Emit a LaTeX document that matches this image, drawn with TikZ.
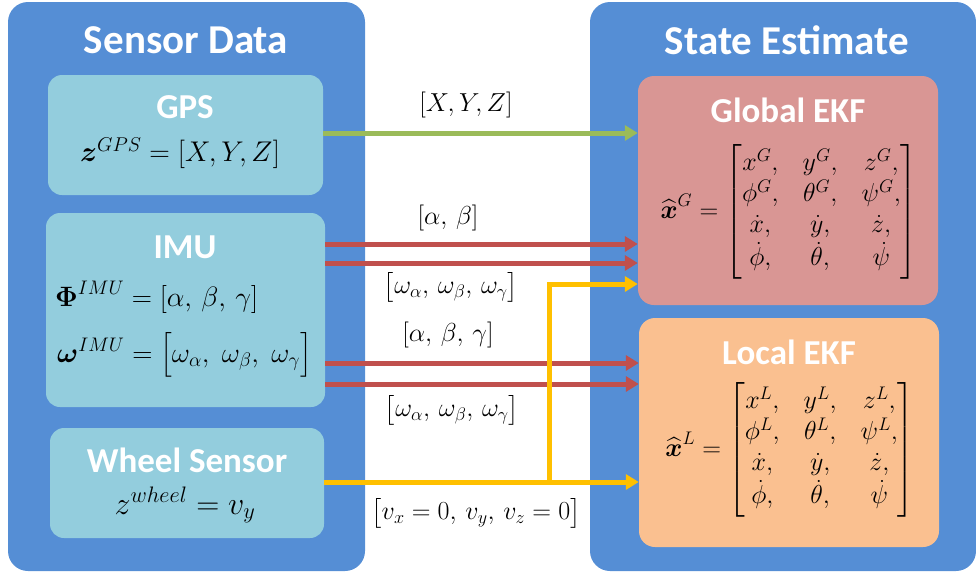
\RequirePackage{fix-cm}
\documentclass[tikz,border=0pt]{standalone}
\usepackage{amsmath}
\usepackage[no-math]{fontspec}
\newfontfamily\titlefont{Carlito}
\usetikzlibrary{arrows.meta,calc}
\definecolor{panelblue}{HTML}{558ED5}
\definecolor{boxblue}{HTML}{93CDDD}
\definecolor{globalc}{HTML}{D99694}
\definecolor{localc}{HTML}{FAC090}
\definecolor{greenc}{HTML}{9BBB59}
\definecolor{redc}{HTML}{C0504D}
\definecolor{yellowc}{HTML}{FFC000}
\tikzset{
  panel/.style={fill=panelblue, draw=none, rounded corners=20pt, inner sep=0pt},
  sbox/.style={fill=boxblue, draw=none, rounded corners=14pt, inner sep=0pt},
  bigtitle/.style={text=white, font=\titlefont\bfseries\fontsize{41}{46}\selectfont, inner sep=0pt},
  boxtitle/.style={text=white, font=\titlefont\bfseries\fontsize{35}{40}\selectfont, inner sep=0pt},
  formula/.style={font=\fontsize{28.5}{33}\selectfont, inner sep=0pt},
  lbl/.style={font=\fontsize{26}{31}\selectfont, inner sep=0pt},
  matr/.style={font=\fontsize{26}{31}\selectfont, inner sep=0pt},
  conn/.style={line width=5pt, -{Triangle[length=13pt,width=15pt]}},
}
\newcommand{\statemat}[1]{\renewcommand{\arraystretch}{1.0}\setlength{\arraycolsep}{12pt}%
$\widehat{\boldsymbol{x}}^{#1}=\begin{bmatrix} x^{#1}, & y^{#1}, & z^{#1},\\ \phi^{#1}, & \theta^{#1}, & \psi^{#1},\\ \dot{x}, & \dot{y}, & \dot{z},\\ \dot{\phi}, & \dot{\theta}, & \dot{\psi}\end{bmatrix}$}
\begin{document}
\begin{tikzpicture}[x=1pt,y=-1pt]
\useasboundingbox (0,0) rectangle (976,573);
% panels
\node[panel, minimum width=357pt, minimum height=569pt] (left) at (186.5,286.5) {};
\node[panel, minimum width=386pt, minimum height=569pt] (right) at (783,286.5) {};
\node[bigtitle] (ltitle) at (186,40) {Sensor Data};
\node[bigtitle] (rtitle) at (787,40) {State Estimate};
% sensor boxes
\node[sbox, minimum width=275pt, minimum height=120pt] (gps) at (185.5,135) {};
\node[sbox, minimum width=279pt, minimum height=194pt] (imu) at (185.5,310) {};
\node[sbox, minimum width=274pt, minimum height=110pt] (wheel) at (187,483) {};
\node[boxtitle] (gpst) at (185,107) {GPS};
\node[formula] (gpsf) at (180,153) {$\boldsymbol{z}^{GPS}=[X,Y,Z]$};
\node[boxtitle] (imut) at (185,247) {IMU};
\node[formula, font=\fontsize{28}{33}\selectfont, anchor=west] (imuf1) at (55,297) {$\boldsymbol{\Phi}^{IMU}=[\alpha,\,\beta,\,\gamma]$};
\node[formula, font=\fontsize{28}{33}\selectfont, anchor=west] (imuf2) at (57,355) {$\boldsymbol{\omega}^{IMU}=\bigl[\omega_\alpha,\;\omega_\beta,\;\omega_\gamma\bigr]$};
\node[boxtitle] (wheelt) at (187,460) {Wheel Sensor};
\node[formula, font=\fontsize{32}{37}\selectfont] (wheelf) at (185,505) {$z^{wheel}=v_y$};
% EKF boxes
\node[fill=globalc, rounded corners=16pt, minimum width=300pt, minimum height=229pt, inner sep=0pt] (global) at (788,190.5) {};
\node[fill=localc, rounded corners=16pt, minimum width=300pt, minimum height=229pt, inner sep=0pt] (local) at (789,432.5) {};
\node[boxtitle] (globalt) at (788,110) {Global EKF};
\node[boxtitle] (localt) at (789,352) {Local EKF};
\node[matr] (globalf) at (789,212) {\statemat{G}};
\node[matr] (localf) at (790,450) {\statemat{L}};
% connectors
\coordinate (yg) at (549,284);
\coordinate (yl) at (549,482);
\draw[conn, greenc] (gps.east |- 0,133) -- (global.west |- 0,133);
\draw[conn, redc] (imu.east |- 0,244) -- (global.west |- 0,244);
\draw[conn, redc] (imu.east |- 0,263) -- (global.west |- 0,263);
\draw[conn, redc] (imu.east |- 0,363) -- (local.west |- 0,363);
\draw[conn, redc] (imu.east |- 0,384) -- (local.west |- 0,384);
\draw[conn, yellowc] (wheel.east |- yl) -- (local.west |- yl);
\draw[conn, yellowc] (yl) -- (yg) -- (global.west |- yg);
% labels
\node[lbl] (l1) at (466,105) {$[X,Y,Z]$};
\node[lbl] (l2) at (448,218) {$[\alpha,\,\beta]$};
\node[lbl] (l3) at (451,287) {$\bigl[\omega_\alpha,\,\omega_\beta,\,\omega_\gamma\bigr]$};
\node[lbl] (l4) at (448,335) {$[\alpha,\,\beta,\,\gamma]$};
\node[lbl] (l5) at (452,410) {$\bigl[\omega_\alpha,\,\omega_\beta,\,\omega_\gamma\bigr]$};
\node[lbl] (l6) at (476,513) {$\bigl[v_x=0,\,v_y,\,v_z=0\bigr]$};
\end{tikzpicture}
\end{document}
